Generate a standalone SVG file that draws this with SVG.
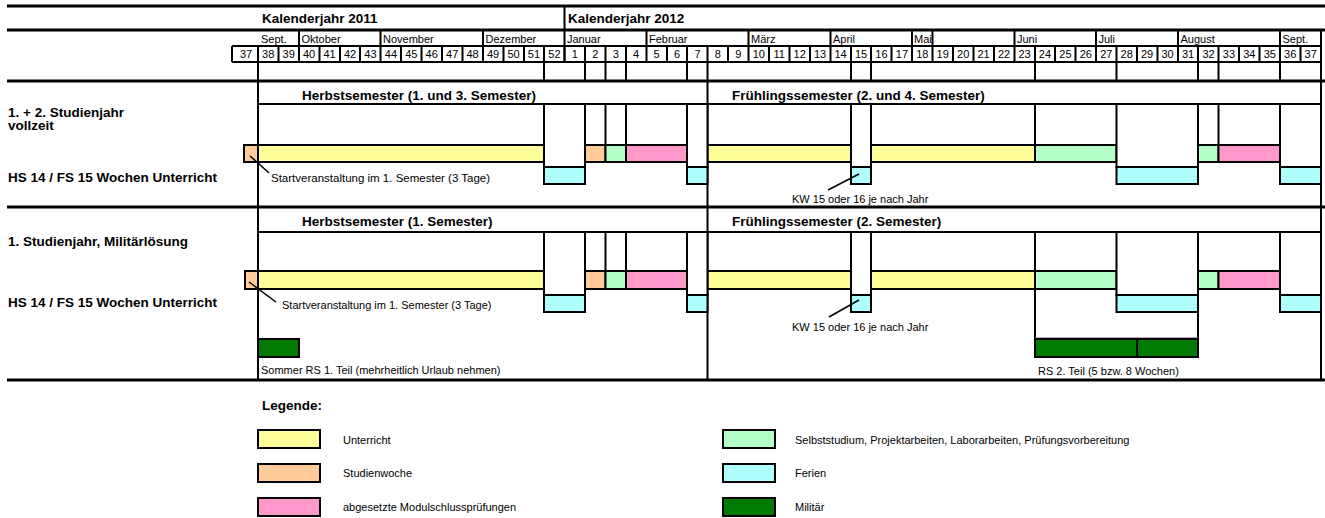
<svg xmlns="http://www.w3.org/2000/svg" width="1325" height="518" viewBox="0 0 1325 518">
<style>
.b{font:bold 13.5px "Liberation Sans",Arial,sans-serif;fill:#000}
.s{font:11px "Liberation Sans",Arial,sans-serif;fill:#000}
.m{font:11.5px "Liberation Sans",Arial,sans-serif;fill:#000}
.c{text-anchor:middle}
.ln{stroke:#000;stroke-width:2;fill:none}
.tk{stroke:#000;stroke-width:3;fill:none}
.bar{stroke:#000;stroke-width:2}
.yl{fill:#FFFF99}.or{fill:#FFCC99}.gr{fill:#B4FFC8}.pk{fill:#FF99CC}.cy{fill:#B0FFFF}.mil{fill:#007A00}.wh{fill:#fff}
</style>
<rect width="1325" height="518" fill="#fff"/>

<g id="header">
<path class="tk" d="M7 6H1325M7 30H1325"/>
<text class="b" x="262" y="22.5">Kalenderjahr 2011</text>
<text class="b" x="568" y="22.5">Kalenderjahr 2012</text>
<path class="ln" d="M564.5 6V62"/>
<g id="months">
<path class="ln" d="M299 30V46M380.5 30V46M483 30V46M646.5 30V46M748.5 30V46M830.5 30V46M912 30V46M932.5 30V46M1014.5 30V46M1096 30V46M1178 30V46M1280 30V46M1321 30V46"/>
<text class="s" x="261" y="43">Sept.</text>
<text class="s" x="301.5" y="43">Oktober</text>
<text class="s" x="383" y="43">November</text>
<text class="s" x="485.5" y="43">Dezember</text>
<text class="s" x="567" y="43">Januar</text>
<text class="s" x="649" y="43">Februar</text>
<text class="s" x="751" y="43">März</text>
<text class="s" x="833" y="43">April</text>
<text class="s" x="914" y="43">Mai</text>
<text class="s" x="1017" y="43">Juni</text>
<text class="s" x="1098.5" y="43">Juli</text>
<text class="s" x="1180.5" y="43">August</text>
<text class="s" x="1282.5" y="43">Sept.</text>
</g>
<g id="weeks">
<path class="ln" d="M232 46H1321M232 62H1321M232 46V62M258 46V62M278.5 46V62M299 46V62M319.5 46V62M340 46V62M360 46V62M380.5 46V62M401 46V62M421.5 46V62M442 46V62M462.5 46V62M483 46V62M503.5 46V62M524 46V62M544 46V62M564.5 46V62M585 46V62M605.5 46V62M626 46V62M646.5 46V62M667 46V62M687 46V62M707.5 46V62M728 46V62M748.5 46V62M769 46V62M789.5 46V62M810 46V62M830.5 46V62M851 46V62M871 46V62M891.5 46V62M912 46V62M932.5 46V62M953 46V62M973.5 46V62M994 46V62M1014.5 46V62M1035 46V62M1055 46V62M1075.5 46V62M1096 46V62M1116.5 46V62M1137 46V62M1157.5 46V62M1178 46V62M1198 46V62M1218.5 46V62M1239 46V62M1259.5 46V62M1280 46V62M1300.5 46V62M1321 46V62"/>
<g class="s c">
<text x="246" y="57.5">37</text><text x="268.2" y="57.5">38</text><text x="288.7" y="57.5">39</text><text x="309.1" y="57.5">40</text><text x="329.5" y="57.5">41</text><text x="350" y="57.5">42</text><text x="370.4" y="57.5">43</text><text x="390.9" y="57.5">44</text><text x="411.3" y="57.5">45</text><text x="431.7" y="57.5">46</text><text x="452.2" y="57.5">47</text><text x="472.6" y="57.5">48</text><text x="493.1" y="57.5">49</text><text x="513.5" y="57.5">50</text><text x="533.9" y="57.5">51</text><text x="554.4" y="57.5">52</text>
<text x="574.8" y="57.5">1</text><text x="595.3" y="57.5">2</text><text x="615.7" y="57.5">3</text><text x="636.1" y="57.5">4</text><text x="656.6" y="57.5">5</text><text x="677" y="57.5">6</text><text x="697.5" y="57.5">7</text><text x="717.9" y="57.5">8</text><text x="738.3" y="57.5">9</text><text x="758.8" y="57.5">10</text><text x="779.2" y="57.5">11</text><text x="799.7" y="57.5">12</text><text x="820.1" y="57.5">13</text><text x="840.5" y="57.5">14</text><text x="861" y="57.5">15</text><text x="881.4" y="57.5">16</text><text x="901.9" y="57.5">17</text><text x="922.3" y="57.5">18</text><text x="942.7" y="57.5">19</text><text x="963.2" y="57.5">20</text><text x="983.6" y="57.5">21</text><text x="1004.1" y="57.5">22</text><text x="1024.5" y="57.5">23</text><text x="1044.9" y="57.5">24</text><text x="1065.4" y="57.5">25</text><text x="1085.8" y="57.5">26</text><text x="1106.3" y="57.5">27</text><text x="1126.7" y="57.5">28</text><text x="1147.1" y="57.5">29</text><text x="1167.6" y="57.5">30</text><text x="1188" y="57.5">31</text><text x="1208.5" y="57.5">32</text><text x="1228.9" y="57.5">33</text><text x="1249.3" y="57.5">34</text><text x="1269.8" y="57.5">35</text><text x="1290.2" y="57.5">36</text><text x="1310.7" y="57.5">37</text>
</g>
</g>
<path class="ln" d="M544 62V81M585 62V81M605.5 62V81M626 62V81M687 62V81M707.5 62V81M851 62V81M871 62V81M1035 62V81M1116.5 62V81M1198 62V81M1218.5 62V81M1280 62V81"/>
</g>

<g id="frame">
<path class="tk" d="M7 81H1325M7 207H1325M7 380H1325"/>
<path class="ln" d="M258 62V380M707.5 81V380M1321 62V380M258 104H1321M258 232H1321"/>
</g>

<g id="block1">
<text class="b" x="8" y="117">1. + 2. Studienjahr</text>
<text class="b" x="8" y="130">vollzeit</text>
<text class="b" x="8" y="182">HS 14 / FS 15 Wochen Unterricht</text>
<text class="b" x="302" y="100">Herbstsemester (1. und 3. Semester)</text>
<text class="b" x="732" y="100">Frühlingssemester (2. und 4. Semester)</text>
<rect class="bar yl" x="258" y="145" width="286" height="17"/>
<rect class="bar or" x="244" y="145" width="14" height="17"/>
<rect class="bar or" x="585" y="145" width="20.5" height="17"/>
<rect class="bar gr" x="605.5" y="145" width="20.5" height="17"/>
<rect class="bar pk" x="626" y="145" width="61" height="17"/>
<rect class="bar yl" x="707.5" y="145" width="143.5" height="17"/>
<rect class="bar yl" x="871" y="145" width="164" height="17"/>
<rect class="bar gr" x="1035" y="145" width="81.5" height="17"/>
<rect class="bar gr" x="1198" y="145" width="20.5" height="17"/>
<rect class="bar pk" x="1218.5" y="145" width="61.5" height="17"/>
<path class="ln" d="M605.5 104V145M626 104V145M1035 104V145M1218.5 104V145"/>
<rect class="bar wh" x="544" y="104" width="41" height="63"/><rect class="bar cy" x="544" y="167" width="41" height="17"/>
<rect class="bar wh" x="687" y="104" width="20.5" height="63"/><rect class="bar cy" x="687" y="167" width="20.5" height="17"/>
<rect class="bar wh" x="851" y="104" width="20" height="63"/><rect class="bar cy" x="851" y="167" width="20" height="17"/>
<rect class="bar wh" x="1116.5" y="104" width="81.5" height="63"/><rect class="bar cy" x="1116.5" y="167" width="81.5" height="17"/>
<rect class="bar wh" x="1280" y="104" width="41" height="63"/><rect class="bar cy" x="1280" y="167" width="41" height="17"/>
<text class="m" x="271" y="182">Startveranstaltung im 1. Semester (3 Tage)</text>
<text class="s" x="792" y="203">KW 15 oder 16 je nach Jahr</text>
</g>

<g id="block2">
<text class="b" x="8" y="246">1. Studienjahr, Militärlösung</text>
<text class="b" x="8" y="307">HS 14 / FS 15 Wochen Unterricht</text>
<text class="b" x="302" y="226">Herbstsemester (1. Semester)</text>
<text class="b" x="732" y="226">Frühlingssemester (2. Semester)</text>
<rect class="bar yl" x="258" y="271" width="286" height="18"/>
<rect class="bar or" x="245" y="271" width="13" height="18"/>
<rect class="bar or" x="585" y="271" width="20.5" height="18"/>
<rect class="bar gr" x="605.5" y="271" width="20.5" height="18"/>
<rect class="bar pk" x="626" y="271" width="61" height="18"/>
<rect class="bar yl" x="707.5" y="271" width="143.5" height="18"/>
<rect class="bar yl" x="871" y="271" width="164" height="18"/>
<rect class="bar gr" x="1035" y="271" width="81.5" height="18"/>
<rect class="bar gr" x="1198" y="271" width="20.5" height="18"/>
<rect class="bar pk" x="1218.5" y="271" width="61.5" height="18"/>
<path class="ln" d="M605.5 232V271M626 232V271M1035 232V357M1198 232V357"/>
<path d="M1035 338H1198" stroke="#999" stroke-width="1.5"/>
<rect class="bar wh" x="544" y="232" width="41" height="63"/><rect class="bar cy" x="544" y="295" width="41" height="17"/>
<rect class="bar wh" x="687" y="232" width="20.5" height="63"/><rect class="bar cy" x="687" y="295" width="20.5" height="17"/>
<rect class="bar wh" x="851" y="232" width="20" height="63"/><rect class="bar cy" x="851" y="295" width="20" height="17"/>
<rect class="bar wh" x="1116.5" y="232" width="81.5" height="63"/><rect class="bar cy" x="1116.5" y="295" width="81.5" height="17"/>
<rect class="bar wh" x="1280" y="232" width="41" height="63"/><rect class="bar cy" x="1280" y="295" width="41" height="17"/>
<rect class="bar mil" x="258" y="339" width="41" height="18"/>
<rect class="bar mil" x="1035" y="339" width="102" height="18"/>
<rect class="bar mil" x="1137" y="339" width="61" height="18"/>
<text class="s" x="282" y="309">Startveranstaltung im 1. Semester (3 Tage)</text>
<text class="s" x="792" y="331">KW 15 oder 16 je nach Jahr</text>
<text class="s" x="261" y="374">Sommer RS 1. Teil (mehrheitlich Urlaub nehmen)</text>
<text class="s" x="1038" y="375">RS 2. Teil (5 bzw. 8 Wochen)</text>
</g>

<g id="connectors" stroke="#000" stroke-width="1.5">
<line x1="250" y1="156" x2="269" y2="173"/>
<line x1="828" y1="190" x2="859" y2="174"/>
<line x1="249" y1="282" x2="276" y2="302"/>
<line x1="829" y1="317" x2="859" y2="300"/>
</g>

<g id="legend">
<text class="b" x="262" y="410">Legende:</text>
<g id="leg-unterricht"><rect class="bar yl" x="258" y="430" width="62" height="18"/><text class="s" x="343" y="444">Unterricht</text></g>
<g id="leg-studienwoche"><rect class="bar or" x="258" y="464" width="62" height="18"/><text class="s" x="343" y="477">Studienwoche</text></g>
<g id="leg-pruefungen"><rect class="bar pk" x="258" y="498" width="62" height="18"/><text class="s" x="343" y="511">abgesetzte Modulschlussprüfungen</text></g>
<g id="leg-selbst"><rect class="bar gr" x="723" y="430" width="52" height="18"/><text class="s" x="795" y="444">Selbststudium, Projektarbeiten, Laborarbeiten, Prüfungsvorbereitung</text></g>
<g id="leg-ferien"><rect class="bar cy" x="723" y="464" width="52" height="18"/><text class="s" x="795" y="477">Ferien</text></g>
<g id="leg-militaer"><rect class="bar mil" x="723" y="498" width="52" height="18"/><text class="s" x="795" y="511">Militär</text></g>
</g>
</svg>
